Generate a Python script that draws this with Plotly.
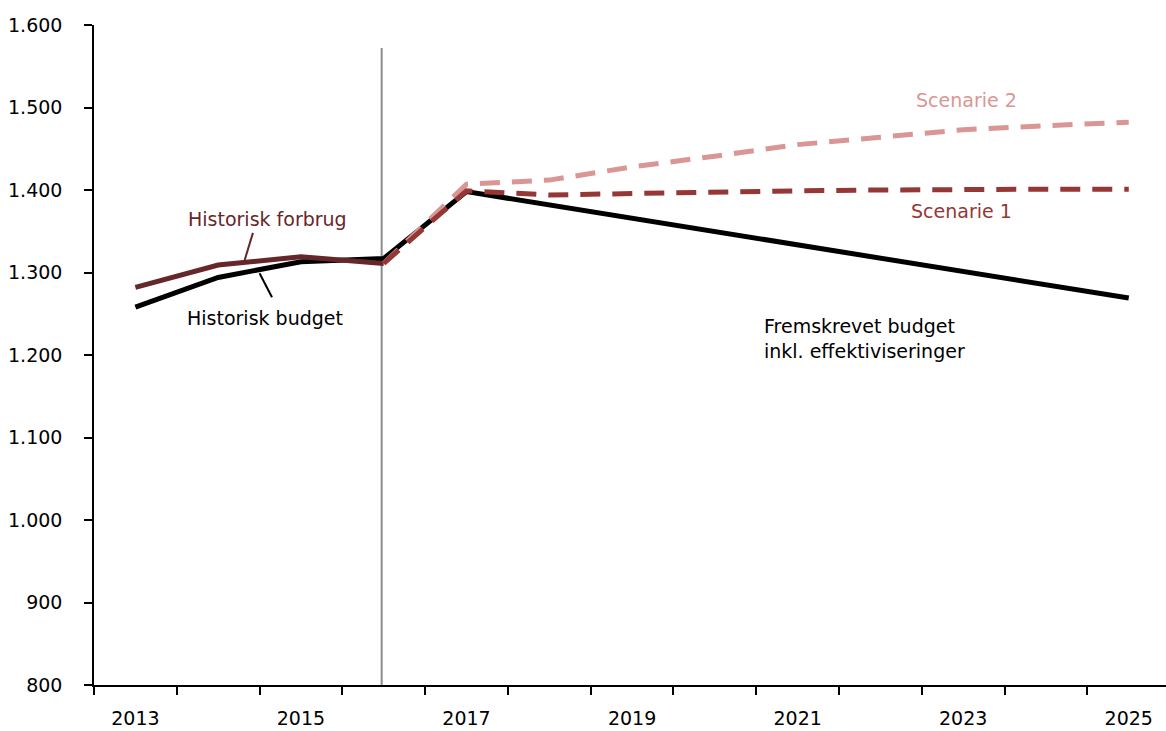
import plotly.graph_objects as go

years = list(range(2013, 2026))
hist_years = [2013, 2014, 2015, 2016]
budget_hist = [1258, 1294, 1313, 1317]
forbrug_hist = [1282, 1309, 1319, 1311]
proj_years = [2016, 2017, 2018, 2019, 2020, 2021, 2022, 2023, 2024, 2025]
budget_proj = [1317, 1398, 1382, 1366, 1350, 1334, 1317, 1301, 1285, 1269]
scen1 = [1311, 1399, 1394, 1396, 1398, 1399, 1400, 1401, 1401, 1401]
scen2 = [1311, 1407, 1412, 1428, 1441, 1455, 1464, 1473, 1478, 1482]
label_years = [2013, 2015, 2017, 2019, 2021, 2023, 2025]
y_ticks = [800, 900, 1000, 1100, 1200, 1300, 1400, 1500, 1600]

C_BLACK = "#000000"
C_FORBRUG = "#66272A"
C_S1 = "#953735"
C_S2 = "#DA9694"
FONT = "DejaVu Sans, Liberation Sans, Arial, sans-serif"
FS = 19

fig = go.Figure()
fig.add_trace(go.Scatter(x=hist_years + proj_years[1:], y=budget_hist + budget_proj[1:],
                         mode="lines", line=dict(color=C_BLACK, width=5), name="Historisk budget"))
fig.add_trace(go.Scatter(x=hist_years, y=forbrug_hist, mode="lines",
                         line=dict(color=C_FORBRUG, width=5), name="Historisk forbrug"))
fig.add_trace(go.Scatter(x=proj_years, y=scen2, mode="lines",
                         line=dict(color=C_S2, width=5, dash="20px,12px"), name="Scenarie 2"))
fig.add_trace(go.Scatter(x=proj_years, y=scen1, mode="lines",
                         line=dict(color=C_S1, width=5, dash="20px,12px"), name="Scenarie 1"))

# vertical separator
fig.add_shape(type="line", x0=2015.975, x1=2015.975, y0=800, y1=1572,
              line=dict(color="#8c8c8c", width=2), layer="below")
# leader lines
fig.add_shape(type="line", x0=2014.42, y0=1348, x1=2014.32, y1=1315,
              line=dict(color=C_FORBRUG, width=2))
fig.add_shape(type="line", x0=2014.50, y0=1299, x1=2014.65, y1=1270,
              line=dict(color=C_BLACK, width=2))

fig.add_annotation(x=2014.59, y=1365, text="Historisk forbrug", showarrow=False,
                   font=dict(color=C_FORBRUG, size=FS, family=FONT))
fig.add_annotation(x=2014.56, y=1245, text="Historisk budget", showarrow=False,
                   font=dict(color=C_BLACK, size=FS, family=FONT))
fig.add_annotation(x=2023.04, y=1509, text="Scenarie 2", showarrow=False,
                   font=dict(color=C_S2, size=FS, family=FONT))
fig.add_annotation(x=2022.98, y=1374.5, text="Scenarie 1", showarrow=False,
                   font=dict(color=C_S1, size=FS, family=FONT))
fig.add_annotation(x=2020.57, y=1220, text="Fremskrevet budget<br>inkl. effektiviseringer",
                   showarrow=False, xanchor="left", align="left",
                   font=dict(color=C_BLACK, size=FS, family=FONT))

fig.update_layout(
    width=1166, height=731,
    margin=dict(l=94, r=0, t=25, b=46),
    plot_bgcolor="white", paper_bgcolor="white",
    showlegend=False,
    separators=",.",
    font=dict(family=FONT, size=FS, color="black"),
)
fig.update_xaxes(
    range=[2012.5, 2025.45], showgrid=False, zeroline=False, automargin=False,
    showline=True, linecolor="black", linewidth=1.5,
    tickmode="array", tickvals=label_years, ticktext=[str(y) for y in label_years],
    ticks="outside", ticklen=0, ticklabelstandoff=15,
    minor=dict(tickmode="array", tickvals=[y - 0.5 for y in years] + [2025.5],
               ticks="outside", ticklen=8, tickcolor="black", tickwidth=1.5, showgrid=False),
    tickfont=dict(size=FS, family=FONT, color="black"),
)
fig.update_yaxes(
    range=[800, 1600], showgrid=False, zeroline=False, automargin=False,
    showline=True, linecolor="black", linewidth=1.5,
    tickmode="array", tickvals=y_ticks, tickformat=",d",
    ticks="outside", ticklen=8, tickcolor="black", tickwidth=1.5,
    ticklabelstandoff=18,
    tickfont=dict(size=FS, family=FONT, color="black"),
)

fig.write_html("out.html")
